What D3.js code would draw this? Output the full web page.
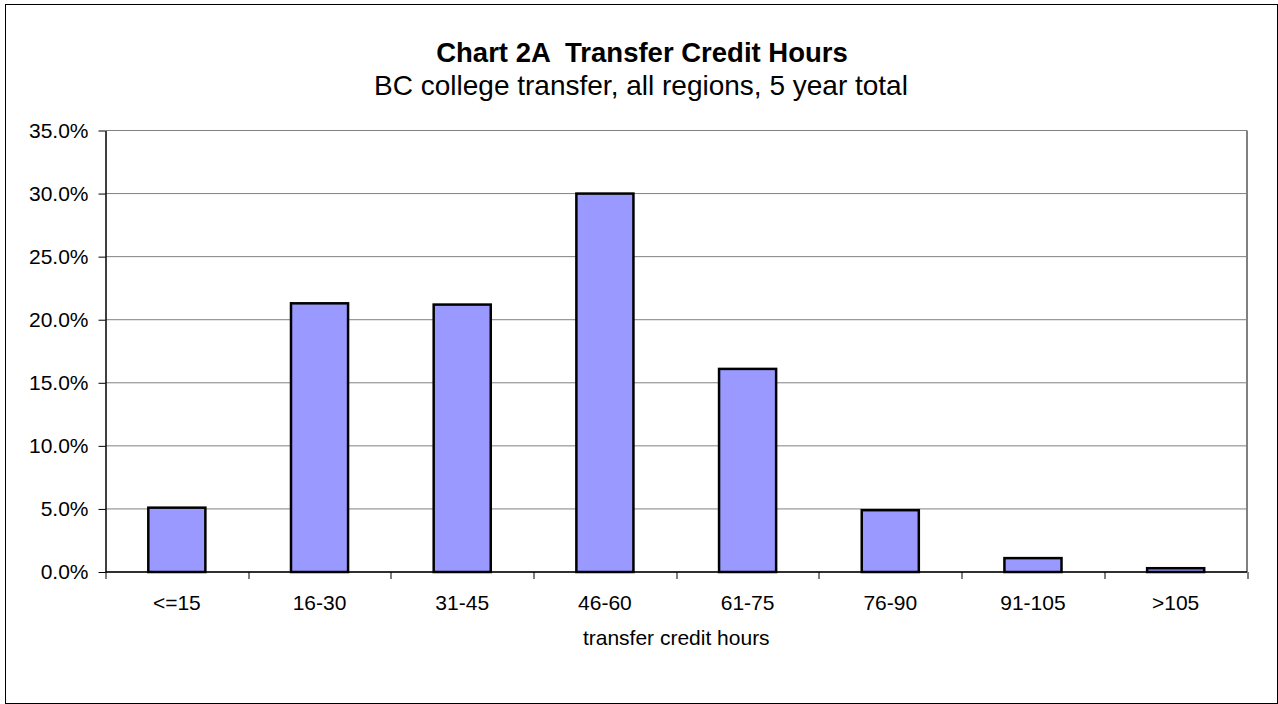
<!DOCTYPE html>
<html>
<head>
<meta charset="utf-8">
<script src="https://cdn.jsdelivr.net/npm/d3@7"></script>
<style>
  body { margin: 0; background: #fff; }
  svg text { font-family: "Liberation Sans", Arial, sans-serif; fill: #000; }
</style>
</head>
<body>
<div id="chart"></div>
<script>
// data
const categories = ["<=15", "16-30", "31-45", "46-60", "61-75", "76-90", "91-105", ">105"];
const values = [5.1, 21.3, 21.2, 30.0, 16.1, 4.9, 1.1, 0.3];
const yTicks = [0, 5, 10, 15, 20, 25, 30, 35];

const W = 1278, H = 704;
const margin = { top: 130.5, right: 31, bottom: 132, left: 105.5 },
  width = W - margin.left - margin.right,
  height = H - margin.top - margin.bottom;

const svg = d3.select("#chart")
  .append("svg")
  .attr("width", W)
  .attr("height", H);

// outer frame
svg.append("rect")
  .attr("x", 5.5).attr("y", 4.5)
  .attr("width", W - 6).attr("height", H - 5)
  .attr("fill", "none")
  .attr("stroke", "#000")
  .attr("stroke-width", 1);

// titles
svg.append("text")
  .attr("x", 642).attr("y", 62)
  .attr("text-anchor", "middle")
  .style("font-size", "27.5px")
  .style("font-weight", "bold")
  .style("white-space", "pre")
  .text("Chart 2A  Transfer Credit Hours");
svg.append("text")
  .attr("x", 641).attr("y", 95)
  .attr("text-anchor", "middle")
  .style("font-size", "28px")
  .text("BC college transfer, all regions, 5 year total");

const g = svg.append("g")
  .attr("transform", `translate(${margin.left},${margin.top})`);

const x = d3.scaleBand()
  .domain(categories)
  .range([0, width])
  .paddingInner(0.6)
  .paddingOuter(0.3);

const y = d3.scaleLinear()
  .domain([0, 35])
  .range([height, 0]);

// gridlines
g.selectAll(".grid")
  .data(yTicks)
  .join("line")
  .attr("x1", 0).attr("x2", width)
  .attr("y1", d => y(d))
  .attr("y2", d => y(d))
  .attr("stroke", "#808080")
  .attr("stroke-width", 1);

// plot border right
g.append("line")
  .attr("x1", width).attr("x2", width)
  .attr("y1", 0).attr("y2", height)
  .attr("stroke", "#808080").attr("stroke-width", 2);

// bars
g.selectAll(".bar")
  .data(values)
  .join("rect")
  .attr("x", (d, i) => x(categories[i]))
  .attr("y", d => y(d))
  .attr("width", x.bandwidth())
  .attr("height", d => height - y(d))
  .attr("fill", "#9999ff")
  .attr("stroke", "#000")
  .attr("stroke-width", 2.5);

// y axis
const yAxis = g.append("g")
  .call(d3.axisLeft(y).tickValues(yTicks).tickSize(7).tickSizeOuter(0)
    .tickFormat(d => d.toFixed(1) + "%"));
yAxis.select(".domain").attr("stroke", "#000").attr("stroke-width", 1.5);
yAxis.selectAll(".tick line").attr("stroke", "#000");
yAxis.selectAll(".tick text")
  .attr("x", -17)
  .style("font-size", "21px")
  .style("font-family", "Liberation Sans, Arial, sans-serif");

// x axis: ticks between categories
const xAxis = g.append("g")
  .attr("transform", `translate(0,${height})`);
xAxis.append("line")
  .attr("x1", 0).attr("x2", width)
  .attr("stroke", "#000").attr("stroke-width", 1.5);
const step = width / categories.length;
xAxis.selectAll(".xtick")
  .data(d3.range(categories.length + 1))
  .join("line")
  .attr("x1", i => Math.round(i * step) + 0.5)
  .attr("x2", i => Math.round(i * step) + 0.5)
  .attr("y1", 0).attr("y2", 7)
  .attr("stroke", "#000");
xAxis.selectAll(".xlab")
  .data(categories)
  .join("text")
  .attr("x", d => x(d) + x.bandwidth() / 2)
  .attr("y", 610 - margin.top - height)
  .attr("text-anchor", "middle")
  .style("font-size", "21px")
  .text(d => d);

svg.append("text")
  .attr("x", margin.left + width / 2).attr("y", 645)
  .attr("text-anchor", "middle")
  .style("font-size", "21px")
  .text("transfer credit hours");
</script>
</body>
</html>
